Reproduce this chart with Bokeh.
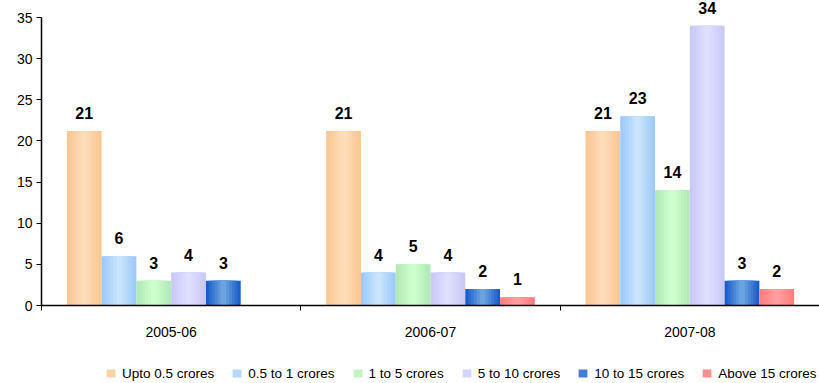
import numpy as np
from bokeh.plotting import figure
from bokeh.layouts import column
from bokeh.models import (ColumnDataSource, FixedTicker, Range1d, Legend, LegendItem, LabelSet)
from bokeh.core.properties import value
from bokeh.embed import file_html
from bokeh.resources import INLINE

years = ["2005-06", "2006-07", "2007-08"]
series = ["Upto 0.5 crores", "0.5 to 1 crores", "1 to 5 crores",
          "5 to 10 crores", "10 to 15 crores", "Above 15 crores"]
upto_05 = [21.2, 21.2, 21.2]
from_05_to_1 = [6, 4, 23]
from_1_to_5 = [3, 5, 14]
from_5_to_10 = [4, 4, 34]
from_10_to_15 = [3, 2, 3]
above_15 = [None, 1, 2]
labels = [["21", "21", "21"], ["6", "4", "23"], ["3", "5", "14"],
          ["4", "4", "34"], ["3", "2", "3"], ["", "1", "2"]]
all_values = [upto_05, from_05_to_1, from_1_to_5, from_5_to_10, from_10_to_15, above_15]
edge_colors = ["#FBC792", "#9DCAF8", "#B2E9B8", "#C9C9F8", "#1B5EC9", "#FF7E7E"]
center_colors = ["#FDDCBA", "#C9E4FC", "#CDFFCD", "#DEDEFE", "#6BA3DF", "#FF9E9E"]
legend_colors = ["#FCD1A6", "#B4D7FA", "#C0F4C3", "#D4D4FB", "#3F7FD5", "#FF8E8E"]

FONT = "Liberation Sans"
bar_w = 35 / 261
Y_MAX = 35
Y_TOP = 305 / (288 / 35)   # extra head-room above the 35 tick for the data labels


def mix(c1, c2, t):
    a = [int(c1[k:k + 2], 16) for k in (1, 3, 5)]
    b = [int(c2[k:k + 2], 16) for k in (1, 3, 5)]
    return "#%02x%02x%02x" % tuple(round(a[i] + (b[i] - a[i]) * t) for i in range(3))


p = figure(frame_width=778, frame_height=305, output_backend="svg", toolbar_location=None,
           x_range=Range1d(0, 3), y_range=Range1d(0, Y_TOP))
p.min_border_left = 41
p.min_border_right = 0
p.min_border_top = 0
p.min_border_bottom = 36
p.outline_line_color = None
p.xgrid.visible = False
p.ygrid.visible = False

for j, (vals, c_edge, c_mid, labs) in enumerate(zip(all_values, edge_colors, center_colors, labels)):
    xs, ys, ts = [], [], []
    for i, v in enumerate(vals):
        if v is None:
            continue
        xs.append(i + 0.5 + (j - 2.5) * bar_w)
        ys.append(v)
        ts.append(labs[i])
    src = ColumnDataSource(dict(x=xs, top=ys, t=ts))
    steps = 6
    for s in range(steps):
        frac = 1 - s / steps
        p.vbar(x="x", top="top", width=bar_w * frac, bottom=0, source=src,
               fill_color=mix(c_edge, c_mid, s / (steps - 1)), line_color=None)
    p.add_layout(LabelSet(x="x", y="top", text="t", source=src, text_align="center",
                          text_baseline="alphabetic", y_offset=12,
                          text_font=value(FONT), text_font_style="bold",
                          text_font_size="16px", text_color="#000000"))

# y axis
p.yaxis.ticker = FixedTicker(ticks=list(range(0, 36, 5)))
p.yaxis.bounds = (0, Y_MAX)
p.yaxis.major_label_text_font = FONT
p.yaxis.major_label_text_font_size = "14px"
p.yaxis.major_label_text_color = "#000000"
p.yaxis.axis_line_color = "#000000"
p.yaxis.major_tick_line_color = "#000000"
p.yaxis.major_tick_out = 5
p.yaxis.major_tick_in = 0
p.yaxis.major_label_standoff = 4
p.yaxis.minor_tick_line_color = None
p.yaxis.axis_line_width = 1.5

# x axis: category labels centred, ticks on group boundaries
p.xaxis.ticker = FixedTicker(ticks=[0.5, 1.5, 2.5], minor_ticks=[0, 1, 2, 3])
p.xaxis.major_label_overrides = {0.5: years[0], 1.5: years[1], 2.5: years[2]}
p.xaxis.major_tick_out = 0
p.xaxis.major_tick_in = 0
p.xaxis.minor_tick_out = 5
p.xaxis.minor_tick_in = 0
p.xaxis.minor_tick_line_color = "#000000"
p.xaxis.axis_line_color = "#000000"
p.xaxis.axis_line_width = 1.5
p.xaxis.major_label_text_font = FONT
p.xaxis.major_label_text_font_size = "14px"
p.xaxis.major_label_text_color = "#000000"
p.xaxis.major_label_standoff = 16

# legend in its own strip below the chart
leg = figure(width=819, height=42, output_backend="svg", toolbar_location=None,
             x_range=Range1d(0, 1), y_range=Range1d(0, 1))
leg.axis.visible = False
leg.grid.visible = False
leg.outline_line_color = None
leg.min_border = 0
items = []
for name, col in zip(series, legend_colors):
    # zero-height placeholder bar: only provides the legend swatch
    r = leg.vbar(x=[0.5], top=[0], bottom=0, width=0.001, fill_color=col, line_color=None)
    items.append(LegendItem(label=name, renderers=[r]))
legend = Legend(items=items, orientation="horizontal", location=(64, 2),
                label_text_font=FONT, label_text_font_size="13.5px",
                label_text_color="#000000", glyph_width=11, glyph_height=10,
                label_height=16, spacing=17, label_standoff=6, border_line_color=None,
                padding=0, margin=0, background_fill_alpha=0)
leg.add_layout(legend, "center")

layout = column(p, leg, spacing=0)
open("out.html", "w").write(file_html(layout, INLINE))
